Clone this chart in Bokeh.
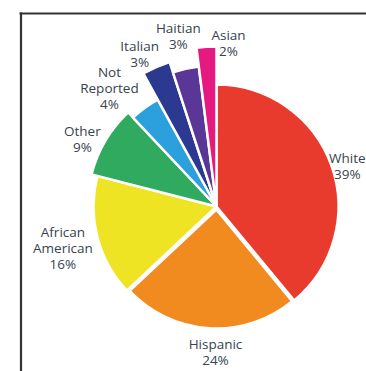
import math
from bokeh.plotting import figure
from bokeh.models import Range1d, ColumnDataSource
from bokeh.core.properties import value
from bokeh.embed import file_html
from bokeh.resources import INLINE

# ---- data ----
categories = ["White", "Hispanic", "African American", "Other",
              "Not Reported", "Italian", "Haitian", "Asian"]
percents = [39, 24, 16, 9, 4, 3, 3, 2]

# ---- styles / layout ----
colors = ["#e83b2d", "#f28b1f", "#eee424", "#2faa5e",
          "#2ba0dc", "#2c3990", "#5a3796", "#e5197f"]
radius_px = [122, 119, 123, 129, 122, 152, 141, 160]
explode_px = [0, 3, 0, 0, 0, 0, 0, 0]
label_r = [137, 146, 159, 150, 160, 171, 175, 164]
label_dtheta = [2.6, -3.2, -0.6, -4.0, -6.0, -3.3, 0.0, 7.8]
line_h = 16

W, H = 366, 371
cx, cy = 216, H - 206  # pie centre in data units (1 unit = 1 px)

p = figure(width=W, height=H, output_backend="svg", toolbar_location=None,
           x_range=Range1d(0, W), y_range=Range1d(0, H),
           min_border=0)
p.axis.visible = False
p.grid.visible = False
p.outline_line_color = None
p.background_fill_color = "white"
p.border_fill_color = "white"

# frame lines (decoration)
p.line([19, W + 2], [H - 13, H - 13], line_color="#333333", line_width=2.2)
p.line([20.5, 20.5], [-2, H - 12], line_color="#333333", line_width=2.2)

total = float(sum(percents))
starts, ends, xs, ys = [], [], [], []
lab_x, lab_y, lab_t = [], [], []
acc = 0.0
for i, (cat, v) in enumerate(zip(categories, percents)):
    a0 = acc / total * 360.0
    a1 = (acc + v) / total * 360.0
    acc += v
    mid = (a0 + a1) / 2.0
    # clockwise-from-top -> math angle
    starts.append(math.radians(90 - a1))
    ends.append(math.radians(90 - a0))
    m = math.radians(90 - mid)
    xs.append(cx + explode_px[i] * math.cos(m))
    ys.append(cy + explode_px[i] * math.sin(m))
    la = math.radians(90 - (mid + label_dtheta[i]))
    lx = cx + label_r[i] * math.cos(la)
    ly = cy + label_r[i] * math.sin(la)
    lines = cat.split(" ") + [f"{v}%"]
    n = len(lines)
    for k, t in enumerate(lines):
        lab_x.append(lx)
        lab_y.append(ly + ((n - 1) / 2.0 - k) * line_h)
        lab_t.append(t)

src = ColumnDataSource(dict(x=xs, y=ys, r=radius_px, s=starts, e=ends, c=colors))
p.wedge(x="x", y="y", radius="r", start_angle="s", end_angle="e",
        direction="anticlock", fill_color="c", line_color="white",
        line_width=2.5, source=src)

p.text(x=lab_x, y=lab_y, text=lab_t, text_font=value("Open Sans"),
       text_font_size="13.5px", text_color="#37434d", text_align="center",
       text_baseline="middle")

open("out.html", "w").write(file_html(p, INLINE))
